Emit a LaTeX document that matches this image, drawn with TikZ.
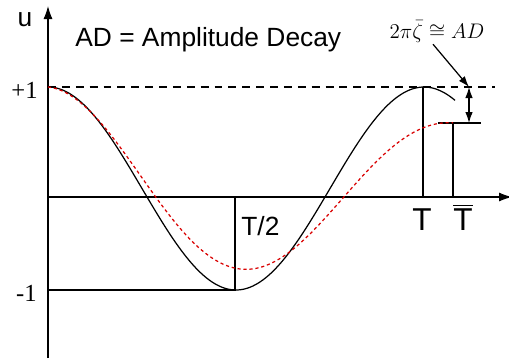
\documentclass[tikz,border=0pt]{standalone}
\usepackage{fontspec}
\setmainfont{Liberation Serif}
\setsansfont{Liberation Sans}
\usetikzlibrary{arrows.meta}

\begin{document}
\begin{tikzpicture}[
  x=0.02cm, y=-0.02cm,
  axis/.style={line width=0.6pt, -{Latex[length=2.6mm,width=1.8mm]}},
  thinline/.style={line width=0.6pt},
  exact/.style={line width=0.7pt, black},
  approx/.style={line width=0.7pt, red!85!black, dash pattern=on 1.8pt off 1.6pt},
  refline/.style={line width=0.6pt, dash pattern=on 4.5pt off 3.4pt},
  ticklabel/.style={inner sep=0pt, font=\fontsize{14}{16}\selectfont},
  sanslabel/.style={inner sep=0pt, font=\sffamily\fontsize{15}{18}\selectfont},
  bigT/.style={inner sep=0pt, font=\sffamily\fontsize{18}{20}\selectfont},
  pointer/.style={-{Latex[length=2.2mm,width=1.5mm]}, line width=0.7pt},
  gap/.style={{Latex[length=2.2mm,width=1.5mm]}-{Latex[length=2.2mm,width=1.5mm]}, line width=0.7pt}
]
\useasboundingbox (0,0) rectangle (509,363);

% key points (picture in pixel units, y downwards)
\coordinate (origin) at (48,197);
\coordinate (ybot) at (48,358);
\coordinate (ytop) at (48,6);
\coordinate (xend) at (512,197);
\coordinate (start) at (48,87);
\coordinate (trough) at (235,290);
\coordinate (troughaxis) at (235,197);
\coordinate (minusone) at (48,290);
\coordinate (peakT) at (423,87);
\coordinate (axisT) at (423,197);
\coordinate (peakTbar) at (453,123);
\coordinate (axisTbar) at (453,197);
\coordinate (levelL) at (438,123);
\coordinate (levelR) at (481,123);
\coordinate (dashend) at (495,87);
\coordinate (gaptop) at (469,87);
\coordinate (gapbot) at (469,123);

% axes
\draw[axis] (ybot) -- (ytop);
\draw[axis] (origin) -- (xend);

% reference lines
\draw[refline] (start) -- (dashend);
\draw[thinline] (minusone) -- (trough) -- (troughaxis);
\draw[thinline] (peakT) -- (axisT);
\draw[thinline] (levelL) -- (levelR);
\draw[thinline] (peakTbar) -- (axisTbar);

% exact and numerical responses
\draw[exact] plot[domain=48:455, samples=160, smooth]
  (\x, {188.5-101.5*cos(0.95745*(\x-48))});
\draw[approx] plot[domain=48:453, samples=160, smooth]
  (\x, {188-101*exp(-0.001087*(\x-48))*cos(0.88889*(\x-48))});

% labels
\node[sanslabel, anchor=base] (ulabel) at (25,26) {u};
\node[sanslabel, anchor=base west] (title) at (75,46) {AD = Amplitude Decay};
\node[ticklabel, anchor=base east] (plusone) at (38,98) {+1};
\node[ticklabel, anchor=base east] (minusonelabel) at (37,301) {-1};
\node[sanslabel, anchor=base west] (halfT) at (241,235) {T/2};
\node[bigT, anchor=base] (Tlabel) at (422,230) {T};
\node[bigT, anchor=base] (Tbarlabel) at (463,230) {$\overline{\mbox{T}}$};
\node[inner sep=1pt, anchor=base, font=\fontsize{12}{14}\selectfont] (adlabel) at (437,38)
  {$2\pi\bar{\zeta}\cong AD$};

% amplitude decay markers
\draw[pointer] ([xshift=-0.08cm]adlabel.south) -- (gaptop);
\draw[gap] (gaptop) -- (gapbot);

\end{tikzpicture}
\end{document}
